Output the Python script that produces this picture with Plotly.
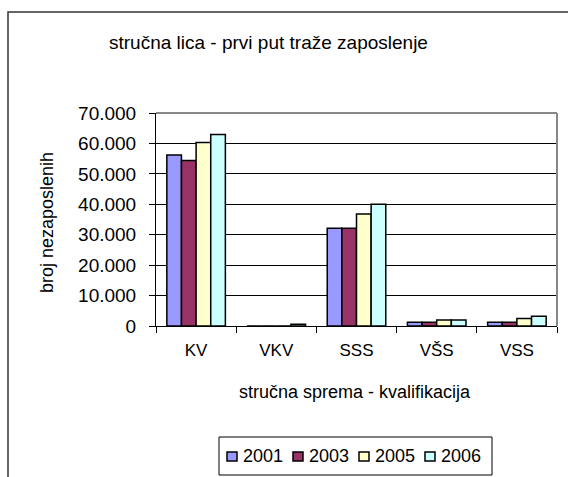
import plotly.graph_objects as go

# podaci: stručna lica koja prvi put traže zaposlenje
kategorije = ['KV', 'VKV', 'SSS', 'VŠS', 'VSS']
godine = ['2001', '2003', '2005', '2006']
v2001 = [56200, 0, 32100, 1200, 1200]
v2003 = [54400, 0, 32100, 1200, 1200]
v2005 = [60300, 0, 36800, 2000, 2500]
v2006 = [62900, 600, 40000, 2000, 3200]
boje = ['#9999FF', '#993366', '#FFFFCC', '#CCFFFF']

FONT = 'Liberation Sans, Arial, sans-serif'
W, H = 568, 477
L, R, T, B = 156, 11, 113, 151


def px(x):
    # piksel -> paper koordinata (x)
    return (x - L) / (W - L - R)


def py(y):
    # piksel -> paper koordinata (y)
    return (H - B - y) / (H - T - B)


fig = go.Figure()
for god, vals, boja in zip(godine, [v2001, v2003, v2005, v2006], boje):
    fig.add_trace(go.Bar(x=kategorije, y=vals, name=god,
                         marker=dict(color=boja, line=dict(color='black', width=1.5))))

fig.update_layout(
    width=W, height=H,
    margin=dict(l=L, r=R, t=T, b=B, autoexpand=False),
    paper_bgcolor='white', plot_bgcolor='white',
    font=dict(family=FONT, color='black', size=16),
    separators=',.',
    barmode='group', bargap=0.27, bargroupgap=0,
    showlegend=False,
)

fig.update_yaxes(range=[0, 70000], dtick=10000, tickformat=',d',
                 showgrid=True, gridcolor='black', gridwidth=1,
                 showline=True, linecolor='black', linewidth=1,
                 ticks='outside', ticklen=6, tickcolor='black', ticklabelstandoff=9,
                 tickfont=dict(size=19), zeroline=False)
fig.update_xaxes(showline=True, linecolor='black', linewidth=1,
                 ticks='outside', tickson='boundaries', ticklen=6, tickcolor='black',
                 ticklabelstandoff=9, tickfont=dict(size=17))

# naslov i nazivi osa
fig.add_annotation(text='stručna lica - prvi put traže zaposlenje', xref='paper', yref='paper',
                   x=px(268), y=py(43), xanchor='center', yanchor='middle',
                   showarrow=False, font=dict(size=19))
fig.add_annotation(text='broj nezaposlenih', xref='paper', yref='paper',
                   x=px(47), y=py(223), xanchor='center', yanchor='middle', textangle=-90,
                   showarrow=False, font=dict(size=18))
fig.add_annotation(text='stručna sprema - kvalifikacija', xref='paper', yref='paper',
                   x=px(355), y=py(392), xanchor='center', yanchor='middle',
                   showarrow=False, font=dict(size=18))

# legenda (ručno, da bi razmaci bili kao u originalu)
fig.add_shape(type='rect', xref='paper', yref='paper', x0=px(219), x1=px(492),
              y0=py(475), y1=py(437), line=dict(color='black', width=1), fillcolor='white')
for i, (god, boja) in enumerate(zip(godine, boje)):
    cx = 232 + 66 * i
    fig.add_shape(type='rect', xref='paper', yref='paper', x0=px(cx - 5), x1=px(cx + 5),
                  y0=py(461), y1=py(452), line=dict(color='black', width=1.5), fillcolor=boja)
    fig.add_annotation(text=god, xref='paper', yref='paper', x=px(cx + 9), y=py(456.5),
                       xanchor='left', yanchor='middle', showarrow=False, font=dict(size=18))

# sivi okvir površine crteža (gore i desno)
fig.add_shape(type='line', xref='paper', yref='paper', x0=0, x1=1, y0=1, y1=1,
              line=dict(color='#888888', width=2), layer='above')
fig.add_shape(type='line', xref='paper', yref='paper', x0=1, x1=1, y0=0, y1=1,
              line=dict(color='#888888', width=2), layer='above')
# spoljni okvir grafikona
fig.add_shape(type='rect', xref='paper', yref='paper', x0=px(8), x1=2, y0=-2, y1=py(12),
              line=dict(color='#333333', width=1.5), layer='above')

fig.write_html("out.html", config={'displayModeBar': False},
               post_script="document.body.style.margin='0';")
